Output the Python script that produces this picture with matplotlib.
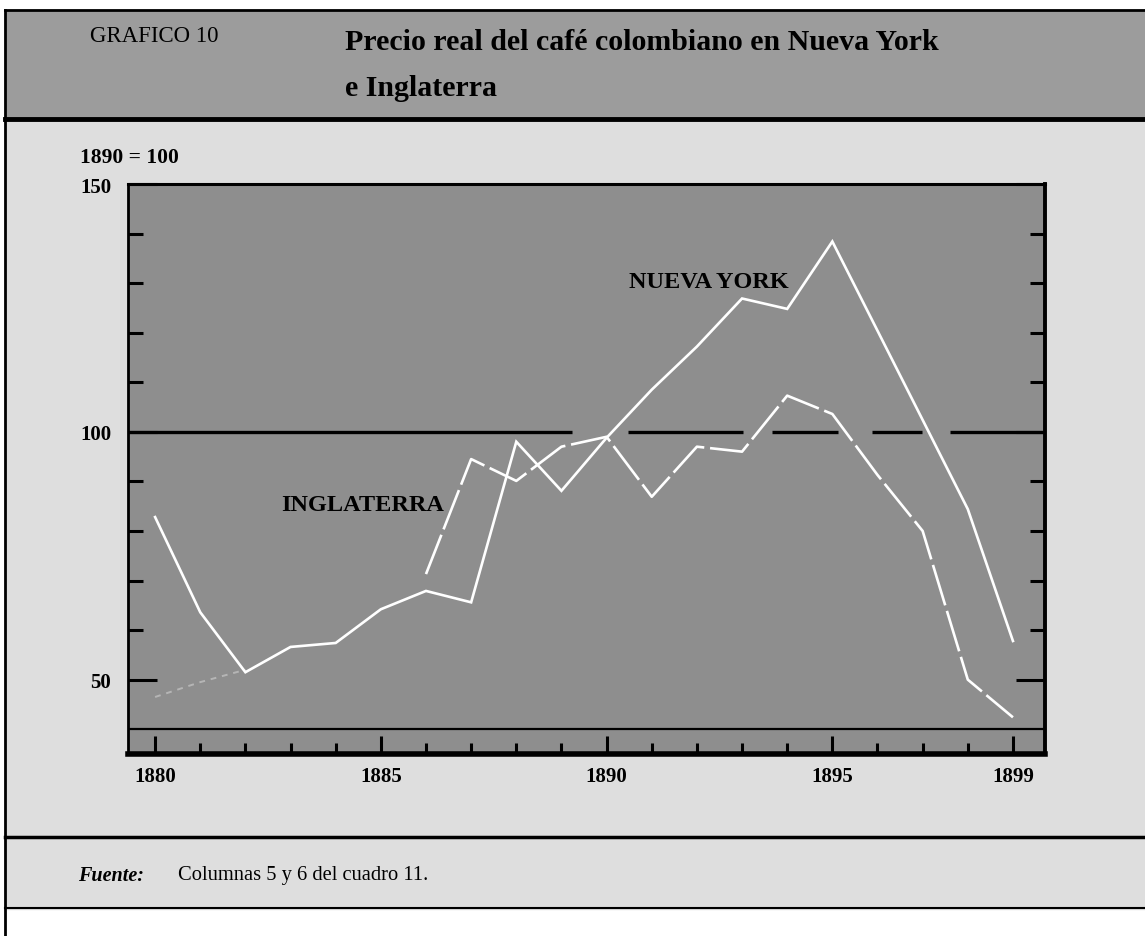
import numpy as np
import matplotlib
matplotlib.use("Agg")
import matplotlib.pyplot as plt
from matplotlib.patches import Rectangle
from matplotlib.lines import Line2D
from matplotlib.ticker import FixedLocator

# Data (1890 = 100)
years = list(range(1880, 1900))
nueva_york = [82.8, 63.6, 51.5, 56.6, 57.4, 64.2, 67.9, 65.6, 98.0, 88.1,
              98.8, 108.5, 117.2, 126.9, 124.8, 138.4, 120.4, 102.4, 84.4, 57.8]
inglaterra = [46.5, 49.5, 52.0, np.nan, np.nan, np.nan, 71.3, 94.5, 90.1, 97.0,
              99.0, 86.9, 97.0, 96.0, 107.3, 103.6, 91.3, 80.0, 50.0, 42.4]
major_years = [1880, 1885, 1890, 1895, 1899]
y_labels = [50, 100, 150]
y_minor = [60, 70, 80, 90, 110, 120, 130, 140]
# pieces of the 1890 = 100 reference line (solid part, then broken)
ref_segments = [(1879.0, 1889.23), (1890.47, 1893.02), (1893.66, 1895.12),
                (1895.88, 1896.98), (1897.60, 1900.0)]

W, H = 1145, 937
SERIF = ["Liberation Serif", "DejaVu Serif"]
PLOT_BG = "#8e8e8e"
BAND_BG = "#9c9c9c"
PAGE_BG = "#dedede"


def fx(x):
    return x / W


def fy(y):
    return 1 - y / H


fig = plt.figure(figsize=(W / 100, H / 100), dpi=100)
fig.patch.set_facecolor("white")

# page pieces: header band, body, footer
fig.add_artist(Rectangle((fx(5), fy(910)), 1, fy(118) - fy(910),
                         transform=fig.transFigure, color=PAGE_BG, zorder=0))
fig.add_artist(Rectangle((fx(5), fy(120)), 1, fy(11) - fy(120),
                         transform=fig.transFigure, color=BAND_BG, zorder=0))
for y, lw in [(11, 2), (120, 3.5), (838, 2.5), (909, 1.5)]:
    fig.add_artist(Line2D([fx(5), 1], [fy(y), fy(y)], transform=fig.transFigure,
                          color="black", lw=lw))
fig.add_artist(Line2D([fx(5), fx(5)], [fy(11), 0], transform=fig.transFigure,
                      color="black", lw=2))

fig.text(fx(90), fy(36), "GRAFICO 10", family=SERIF, fontsize=16.5,
         va="center", ha="left")
fig.text(fx(345), fy(43), "Precio real del café colombiano en Nueva York",
         family=SERIF, fontsize=21.5, fontweight="bold", va="center", ha="left")
fig.text(fx(345), fy(88), "e Inglaterra",
         family=SERIF, fontsize=21.5, fontweight="bold", va="center", ha="left")
fig.text(fx(80), fy(158), "1890 = 100", family=SERIF, fontsize=15.5,
         fontweight="bold", va="center", ha="left")
fig.text(fx(78), fy(876), "Fuente:", family=SERIF, fontsize=14.5,
         fontstyle="italic", fontweight="bold", va="center", ha="left")
fig.text(fx(178), fy(876), "Columnas 5 y 6 del cuadro 11.", family=SERIF,
         fontsize=14.8, va="center", ha="left")

ax = fig.add_axes([fx(128), fy(755), fx(1045) - fx(128), fy(185) - fy(755)])
ax.set_facecolor(PLOT_BG)
ax.set_xlim(1879.40, 1899.71)
ax.set_ylim(35, 150)

# reference line at 100 and inner frame line at 40
for x0, x1 in ref_segments:
    ax.plot([x0, x1], [100, 100], color="black", lw=2.4, solid_capstyle="butt")
ax.axhline(40, color="black", lw=1.6)

ax.plot(years, nueva_york, color="white", lw=1.9, solid_joinstyle="miter")
ing = np.array(inglaterra)
ax.plot(years[:3], ing[:3], color="white", lw=1.4, alpha=0.35, ls=(0, (3, 3)))
ax.plot(years[6:], ing[6:], color="white", lw=1.9, ls=(0, (16, 2.2)))

ax.text(1892.27, 130.3, "NUEVA YORK", family=SERIF, fontsize=17.5,
        fontweight="bold", ha="center", va="center")
ax.text(1884.6, 85.3, "INGLATERRA", family=SERIF, fontsize=17.5,
        fontweight="bold", ha="center", va="center")

ax.xaxis.set_major_locator(FixedLocator(major_years))
ax.xaxis.set_minor_locator(FixedLocator(years))
ax.set_xticklabels([str(y) for y in major_years])
ax.yaxis.set_major_locator(FixedLocator(y_labels))
ax.yaxis.set_minor_locator(FixedLocator(y_minor))
ax.set_yticklabels([str(v) for v in y_labels])

ax.tick_params(axis="x", which="both", direction="in", bottom=True, top=False,
               width=2.2, color="black")
ax.tick_params(axis="x", which="major", length=13, pad=9, labelsize=15)
ax.tick_params(axis="x", which="minor", length=8)
ax.tick_params(axis="y", which="both", direction="in", left=True, right=True,
               width=2.2, color="black")
ax.tick_params(axis="y", which="major", length=21, pad=12, labelsize=15)
ax.tick_params(axis="y", which="minor", length=11)
for lab in ax.get_xticklabels() + ax.get_yticklabels():
    lab.set_family(SERIF)
    lab.set_fontweight("bold")

ax.spines["top"].set_linewidth(2.2)
ax.spines["left"].set_linewidth(2.0)
ax.spines["right"].set_linewidth(2.8)
ax.spines["bottom"].set_linewidth(4.0)

fig.savefig("out.png", dpi=100, facecolor=fig.get_facecolor())
